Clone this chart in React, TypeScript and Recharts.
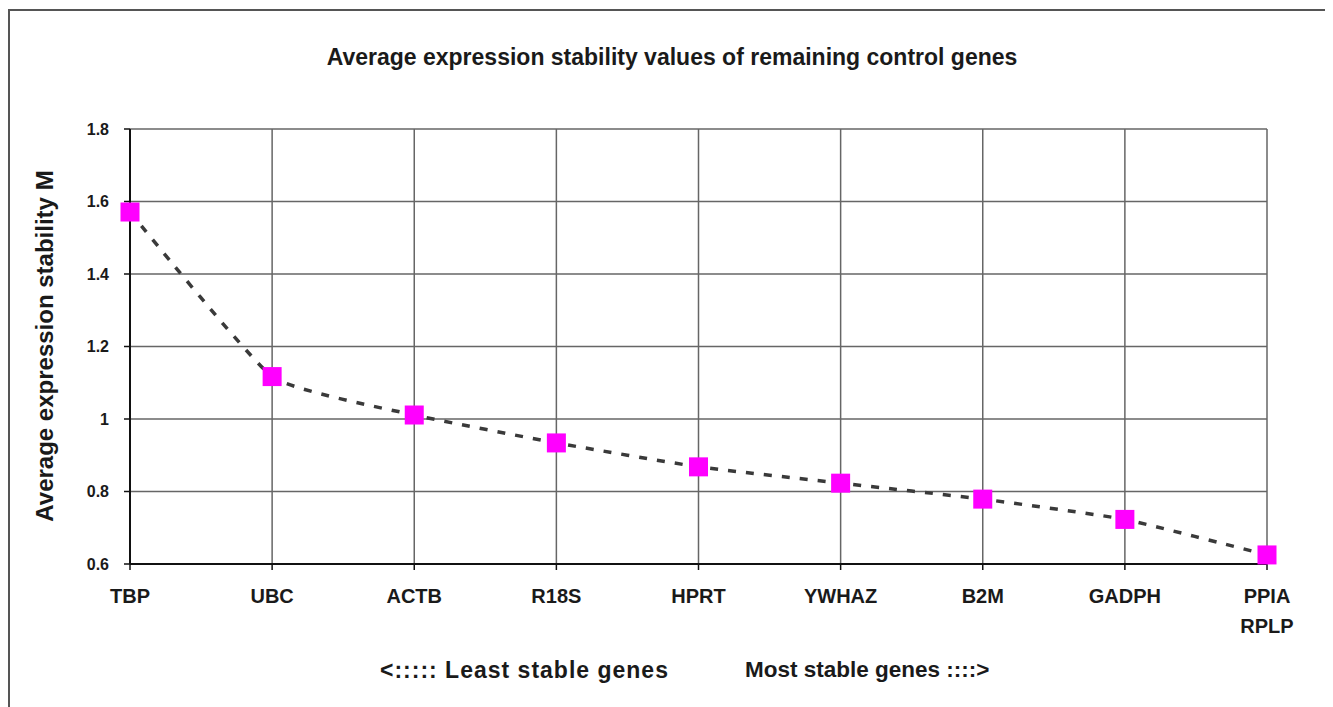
import React from "react"
import {
  LineChart,
  Line,
  XAxis,
  YAxis,
  CartesianGrid
} from "recharts"

const genes = ["TBP", "UBC", "ACTB", "R18S", "HPRT", "YWHAZ", "B2M", "GADPH", "PPIA RPLP"]
const mValues = [1.571, 1.117, 1.011, 0.934, 0.868, 0.823, 0.779, 0.723, 0.625]
const yTicks = [0.6, 0.8, 1, 1.2, 1.4, 1.6, 1.8]

const data = genes.map((gene, i) => ({ gene, m: mValues[i] }))

const FONT = "'Liberation Sans', Arial, sans-serif"

// lightly smoothed line (cardinal spline with some tension)
function lightSmooth(context: any) {
  const k = 1 / 14
  let x0 = NaN, x1 = NaN, x2 = NaN, y0 = NaN, y1 = NaN, y2 = NaN
  let pt = 0
  let line = NaN
  const seg = (x: number, y: number) => {
    context.bezierCurveTo(
      x1 + k * (x2 - x0), y1 + k * (y2 - y0),
      x2 + k * (x1 - x), y2 + k * (y1 - y),
      x2, y2
    )
  }
  return {
    areaStart() { line = 0 },
    areaEnd() { line = NaN },
    lineStart() {
      x0 = x1 = x2 = y0 = y1 = y2 = NaN
      pt = 0
    },
    lineEnd() {
      if (pt === 2) context.lineTo(x2, y2)
      else if (pt === 3) seg(x1, y1)
      if (line || (line !== 0 && pt === 1)) context.closePath()
      line = 1 - line
    },
    point(x: number, y: number) {
      x = +x; y = +y
      if (pt === 0) {
        pt = 1
        line ? context.lineTo(x, y) : context.moveTo(x, y)
      } else if (pt === 1) {
        pt = 2
        x1 = x; y1 = y
      } else {
        pt = 3
        seg(x, y)
      }
      x0 = x1; x1 = x2; x2 = x
      y0 = y1; y1 = y2; y2 = y
    }
  }
}

function GeneTick(props: any) {
  const { x, y, payload } = props
  const lines = String(payload.value).split(" ")
  return (
    <text
      x={x}
      y={y}
      textAnchor="middle"
      fontFamily={FONT}
      fontWeight="bold"
      fontSize={20}
      fill="#1a1a1a"
    >
      {lines.map((line, i) => (
        <tspan key={i} x={x} dy={i === 0 ? 33 : 30}>
          {line}
        </tspan>
      ))}
    </text>
  )
}

function SquareDot(props: any) {
  const { cx, cy, index } = props
  return (
    <rect
      key={index}
      x={cx - 9.5}
      y={cy - 9.5}
      width={19}
      height={19}
      fill="#ff00ff"
    />
  )
}

export default function App() {
  return (
    <div
      style={{
        position: "relative",
        marginTop: 1,
        width: 1323,
        height: 696,
        borderTop: "2px solid #555",
        borderLeft: "2px solid #555",
        fontFamily: FONT,
        color: "#1a1a1a"
      }}
    >
      <style>{"body { overflow: hidden; }"}</style>

      <div
        style={{
          position: "absolute",
          left: 662,
          top: 46,
          transform: "translate(-50%, -50%)",
          whiteSpace: "nowrap",
          fontWeight: "bold",
          fontSize: 23
        }}
      >
        Average expression stability values of remaining control genes
      </div>

      <div
        style={{
          position: "absolute",
          left: 35,
          top: 335,
          transform: "translate(-50%, -50%) rotate(-90deg)",
          whiteSpace: "nowrap",
          fontWeight: "bold",
          fontSize: 24
        }}
      >
        Average expression stability M
      </div>

      <LineChart
        width={1323}
        height={688}
        data={data}
        margin={{ top: 118, right: 66, bottom: 75, left: 60 }}
      >

        <CartesianGrid stroke="#666" strokeWidth={1.5} />

        <XAxis
          dataKey="gene"
          height={60}
          tick={<GeneTick />}
          tickSize={6}
          tickMargin={0}
          axisLine={{ stroke: "#111", strokeWidth: 2 }}
          tickLine={{ stroke: "#111", strokeWidth: 1.5 }}
          interval={0}
        />

        <YAxis
          width={60}
          domain={[0.6, 1.8]}
          ticks={yTicks}
          tickSize={6}
          tickMargin={15}
          axisLine={{ stroke: "#111", strokeWidth: 2 }}
          tickLine={{ stroke: "#111", strokeWidth: 1.5 }}
          tick={{ fill: "#1a1a1a", fontSize: 16, fontWeight: "bold", fontFamily: FONT }}
        />

        <Line
          type={lightSmooth as any}
          dataKey="m"
          stroke="#3a3a3a"
          strokeWidth={3.5}
          strokeDasharray="8 10"
          dot={<SquareDot />}
          activeDot={false}
          isAnimationActive={false}
        />

      </LineChart>

      <div
        style={{
          position: "absolute",
          left: 370,
          top: 659,
          transform: "translateY(-50%)",
          whiteSpace: "nowrap",
          fontWeight: "bold",
          fontSize: 23,
          letterSpacing: 1
        }}
      >
        {"<::::: Least stable genes"}
      </div>

      <div
        style={{
          position: "absolute",
          left: 735,
          top: 659,
          transform: "translateY(-50%)",
          whiteSpace: "nowrap",
          fontWeight: "bold",
          fontSize: 22.5
        }}
      >
        {"Most stable genes ::::>"}
      </div>

    </div>
  )
}
